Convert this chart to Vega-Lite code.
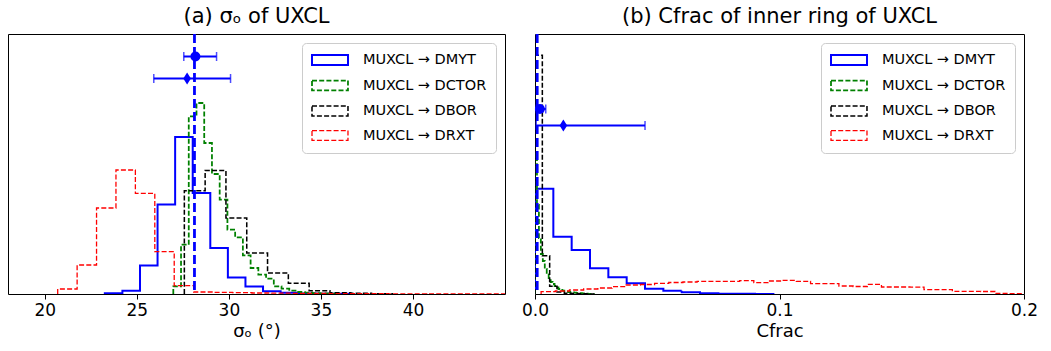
{
  "$schema": "https://vega.github.io/schema/vega-lite/v6.json",
  "background": "white",
  "padding": {"left": 7, "top": 5, "right": 5, "bottom": 5},
  "bounds": "flush",
  "spacing": 30,
  "config": {
    "font": "DejaVu Sans",
    "view": {"stroke": "#000000", "strokeWidth": 1},
    "title": {"fontSize": 21, "font": "DejaVu Sans", "fontWeight": "normal", "color": "#000000", "offset": 6, "anchor": "middle"},
    "axis": {"labelFontSize": 17, "titleFontSize": 18, "labelFont": "DejaVu Sans", "titleFont": "DejaVu Sans", "titleFontWeight": "normal", "labelColor": "#000000", "titleColor": "#000000", "tickColor": "#000000", "tickSize": 5, "domain": false, "grid": false, "labelPadding": 3, "titlePadding": 4, "labelFlush": false},
    "legend": {"orient": "top-right", "offset": 9, "title": null, "symbolType": "M-1,-0.71L4.14,-0.71L4.14,0.71L-1,0.71Z", "symbolSize": 196, "symbolFillColor": "transparent", "labelFontSize": 14.5, "labelFont": "DejaVu Sans", "labelColor": "#000000", "fillColor": "rgba(255,255,255,0.8)", "strokeColor": "#cccccc", "cornerRadius": 4, "padding": 9, "rowPadding": 7.5, "labelOffset": 36}
  },
  "datasets": {
    "hist_a": [
      {"series": "MYT", "x": 23.26, "count": 0, "i": 0},
      {"series": "MYT", "x": 23.26, "count": 1.4, "i": 1},
      {"series": "MYT", "x": 24.215, "count": 6.6, "i": 2},
      {"series": "MYT", "x": 25.17, "count": 57, "i": 3},
      {"series": "MYT", "x": 26.125, "count": 179, "i": 4},
      {"series": "MYT", "x": 27.08, "count": 314, "i": 5},
      {"series": "MYT", "x": 28.035, "count": 202, "i": 6},
      {"series": "MYT", "x": 28.99, "count": 92, "i": 7},
      {"series": "MYT", "x": 29.945, "count": 33, "i": 8},
      {"series": "MYT", "x": 30.9, "count": 15, "i": 9},
      {"series": "MYT", "x": 31.855, "count": 5.4, "i": 10},
      {"series": "MYT", "x": 32.81, "count": 2.4, "i": 11},
      {"series": "MYT", "x": 33.765, "count": 1.2, "i": 12},
      {"series": "MYT", "x": 34.72, "count": 0.6, "i": 13},
      {"series": "MYT", "x": 35.675, "count": 0.4, "i": 14},
      {"series": "MYT", "x": 36.63, "count": 0, "i": 15},
      {"series": "CTOR", "x": 26.98, "count": 0, "i": 0},
      {"series": "CTOR", "x": 26.98, "count": 15.4, "i": 1},
      {"series": "CTOR", "x": 27.40, "count": 98.6, "i": 2},
      {"series": "CTOR", "x": 27.82, "count": 355.4, "i": 3},
      {"series": "CTOR", "x": 28.24, "count": 382, "i": 4},
      {"series": "CTOR", "x": 28.66, "count": 302, "i": 5},
      {"series": "CTOR", "x": 29.08, "count": 240, "i": 6},
      {"series": "CTOR", "x": 29.50, "count": 188.6, "i": 7},
      {"series": "CTOR", "x": 29.92, "count": 128.6, "i": 8},
      {"series": "CTOR", "x": 30.34, "count": 113.4, "i": 9},
      {"series": "CTOR", "x": 30.76, "count": 77.4, "i": 10},
      {"series": "CTOR", "x": 31.18, "count": 52, "i": 11},
      {"series": "CTOR", "x": 31.60, "count": 38.6, "i": 12},
      {"series": "CTOR", "x": 32.02, "count": 30.6, "i": 13},
      {"series": "CTOR", "x": 32.44, "count": 15.4, "i": 14},
      {"series": "CTOR", "x": 32.86, "count": 10.6, "i": 15},
      {"series": "CTOR", "x": 33.28, "count": 6.6, "i": 16},
      {"series": "CTOR", "x": 33.70, "count": 4, "i": 17},
      {"series": "CTOR", "x": 34.12, "count": 2.6, "i": 18},
      {"series": "CTOR", "x": 34.54, "count": 1.6, "i": 19},
      {"series": "CTOR", "x": 34.96, "count": 1, "i": 20},
      {"series": "CTOR", "x": 35.38, "count": 0.6, "i": 21},
      {"series": "CTOR", "x": 35.80, "count": 0, "i": 22},
      {"series": "BOR", "x": 27.58, "count": 0, "i": 0},
      {"series": "BOR", "x": 27.58, "count": 206.6, "i": 1},
      {"series": "BOR", "x": 28.71, "count": 247, "i": 2},
      {"series": "BOR", "x": 29.84, "count": 152, "i": 3},
      {"series": "BOR", "x": 30.97, "count": 82, "i": 4},
      {"series": "BOR", "x": 32.10, "count": 42, "i": 5},
      {"series": "BOR", "x": 33.23, "count": 21.4, "i": 6},
      {"series": "BOR", "x": 34.36, "count": 6.6, "i": 7},
      {"series": "BOR", "x": 35.49, "count": 2.6, "i": 8},
      {"series": "BOR", "x": 36.62, "count": 1.4, "i": 9},
      {"series": "BOR", "x": 37.75, "count": 0.6, "i": 10},
      {"series": "BOR", "x": 38.88, "count": 0, "i": 11},
      {"series": "RXT", "x": 20.70, "count": 0, "i": 0},
      {"series": "RXT", "x": 20.70, "count": 10, "i": 1},
      {"series": "RXT", "x": 21.755, "count": 58, "i": 2},
      {"series": "RXT", "x": 22.81, "count": 172, "i": 3},
      {"series": "RXT", "x": 23.865, "count": 248, "i": 4},
      {"series": "RXT", "x": 24.92, "count": 201.4, "i": 5},
      {"series": "RXT", "x": 25.975, "count": 84.6, "i": 6},
      {"series": "RXT", "x": 27.03, "count": 16.6, "i": 7},
      {"series": "RXT", "x": 28.085, "count": 4, "i": 8},
      {"series": "RXT", "x": 29.14, "count": 3.4, "i": 9},
      {"series": "RXT", "x": 30.195, "count": 2.6, "i": 10},
      {"series": "RXT", "x": 31.25, "count": 2, "i": 11},
      {"series": "RXT", "x": 32.305, "count": 1.6, "i": 12},
      {"series": "RXT", "x": 33.36, "count": 1.4, "i": 13},
      {"series": "RXT", "x": 34.415, "count": 1, "i": 14},
      {"series": "RXT", "x": 35.47, "count": 0.8, "i": 15},
      {"series": "RXT", "x": 36.525, "count": 0.6, "i": 16},
      {"series": "RXT", "x": 37.58, "count": 0.6, "i": 17},
      {"series": "RXT", "x": 38.635, "count": 0.4, "i": 18},
      {"series": "RXT", "x": 39.69, "count": 0.4, "i": 19},
      {"series": "RXT", "x": 40.745, "count": 0.2, "i": 20},
      {"series": "RXT", "x": 41.80, "count": 0.2, "i": 21},
      {"series": "RXT", "x": 42.855, "count": 0.2, "i": 22},
      {"series": "RXT", "x": 43.91, "count": 0.2, "i": 23},
      {"series": "RXT", "x": 44.965, "count": 0.2, "i": 24},
      {"series": "RXT", "x": 46.02, "count": 0, "i": 25}
    ],
    "hist_b": [
      {"series": "MYT", "x": 0, "count": 0, "i": 0},
      {"series": "MYT", "x": 0, "count": 210.6, "i": 1},
      {"series": "MYT", "x": 0.0075, "count": 114.6, "i": 2},
      {"series": "MYT", "x": 0.015, "count": 88, "i": 3},
      {"series": "MYT", "x": 0.0225, "count": 51.4, "i": 4},
      {"series": "MYT", "x": 0.03, "count": 33.4, "i": 5},
      {"series": "MYT", "x": 0.0375, "count": 21.4, "i": 6},
      {"series": "MYT", "x": 0.045, "count": 10.6, "i": 7},
      {"series": "MYT", "x": 0.0525, "count": 6.6, "i": 8},
      {"series": "MYT", "x": 0.06, "count": 3.4, "i": 9},
      {"series": "MYT", "x": 0.0675, "count": 1.4, "i": 10},
      {"series": "MYT", "x": 0.075, "count": 0.6, "i": 11},
      {"series": "MYT", "x": 0.0825, "count": 0.4, "i": 12},
      {"series": "MYT", "x": 0.09, "count": 0.2, "i": 13},
      {"series": "MYT", "x": 0.0975, "count": 0, "i": 14},
      {"series": "CTOR", "x": 0, "count": 0, "i": 0},
      {"series": "CTOR", "x": 0, "count": 280, "i": 1},
      {"series": "CTOR", "x": 0.0008, "count": 178, "i": 2},
      {"series": "CTOR", "x": 0.0016, "count": 112, "i": 3},
      {"series": "CTOR", "x": 0.0024, "count": 80, "i": 4},
      {"series": "CTOR", "x": 0.0032, "count": 66, "i": 5},
      {"series": "CTOR", "x": 0.004, "count": 50, "i": 6},
      {"series": "CTOR", "x": 0.0048, "count": 40, "i": 7},
      {"series": "CTOR", "x": 0.0056, "count": 32, "i": 8},
      {"series": "CTOR", "x": 0.0064, "count": 24, "i": 9},
      {"series": "CTOR", "x": 0.0072, "count": 20, "i": 10},
      {"series": "CTOR", "x": 0.008, "count": 16, "i": 11},
      {"series": "CTOR", "x": 0.0088, "count": 13, "i": 12},
      {"series": "CTOR", "x": 0.0096, "count": 10, "i": 13},
      {"series": "CTOR", "x": 0.0104, "count": 8, "i": 14},
      {"series": "CTOR", "x": 0.0112, "count": 6.6, "i": 15},
      {"series": "CTOR", "x": 0.012, "count": 5.6, "i": 16},
      {"series": "CTOR", "x": 0.0128, "count": 4.8, "i": 17},
      {"series": "CTOR", "x": 0.0136, "count": 4, "i": 18},
      {"series": "CTOR", "x": 0.0144, "count": 3.4, "i": 19},
      {"series": "CTOR", "x": 0.0152, "count": 3, "i": 20},
      {"series": "CTOR", "x": 0.016, "count": 2.6, "i": 21},
      {"series": "CTOR", "x": 0.0168, "count": 2.2, "i": 22},
      {"series": "CTOR", "x": 0.0176, "count": 2, "i": 23},
      {"series": "CTOR", "x": 0.0184, "count": 1.6, "i": 24},
      {"series": "CTOR", "x": 0.0192, "count": 1.2, "i": 25},
      {"series": "CTOR", "x": 0.02, "count": 0.8, "i": 26},
      {"series": "CTOR", "x": 0.0208, "count": 0.6, "i": 27},
      {"series": "CTOR", "x": 0.0216, "count": 0.4, "i": 28},
      {"series": "CTOR", "x": 0.0224, "count": 0.2, "i": 29},
      {"series": "CTOR", "x": 0.0232, "count": 0.2, "i": 30},
      {"series": "CTOR", "x": 0.024, "count": 0, "i": 31},
      {"series": "BOR", "x": 0, "count": 0, "i": 0},
      {"series": "BOR", "x": 0, "count": 477.4, "i": 1},
      {"series": "BOR", "x": 0.003, "count": 76.6, "i": 2},
      {"series": "BOR", "x": 0.006, "count": 15.4, "i": 3},
      {"series": "BOR", "x": 0.009, "count": 4, "i": 4},
      {"series": "BOR", "x": 0.012, "count": 1.6, "i": 5},
      {"series": "BOR", "x": 0.015, "count": 0.8, "i": 6},
      {"series": "BOR", "x": 0.018, "count": 0.4, "i": 7},
      {"series": "BOR", "x": 0.021, "count": 0.2, "i": 8},
      {"series": "BOR", "x": 0.024, "count": 0, "i": 9},
      {"series": "RXT", "x": 0.0025, "count": 0, "i": 0},
      {"series": "RXT", "x": 0.0025, "count": 4.6, "i": 1},
      {"series": "RXT", "x": 0.0083, "count": 6, "i": 2},
      {"series": "RXT", "x": 0.0141, "count": 8, "i": 3},
      {"series": "RXT", "x": 0.0199, "count": 10, "i": 4},
      {"series": "RXT", "x": 0.0257, "count": 12, "i": 5},
      {"series": "RXT", "x": 0.0315, "count": 14.6, "i": 6},
      {"series": "RXT", "x": 0.0373, "count": 18, "i": 7},
      {"series": "RXT", "x": 0.0431, "count": 19, "i": 8},
      {"series": "RXT", "x": 0.0489, "count": 21.4, "i": 9},
      {"series": "RXT", "x": 0.0547, "count": 23, "i": 10},
      {"series": "RXT", "x": 0.0605, "count": 24, "i": 11},
      {"series": "RXT", "x": 0.0663, "count": 25.4, "i": 12},
      {"series": "RXT", "x": 0.0721, "count": 25.4, "i": 13},
      {"series": "RXT", "x": 0.0779, "count": 25.4, "i": 14},
      {"series": "RXT", "x": 0.0837, "count": 26.6, "i": 15},
      {"series": "RXT", "x": 0.0895, "count": 22.6, "i": 16},
      {"series": "RXT", "x": 0.0953, "count": 26, "i": 17},
      {"series": "RXT", "x": 0.1011, "count": 27.4, "i": 18},
      {"series": "RXT", "x": 0.1069, "count": 25.4, "i": 19},
      {"series": "RXT", "x": 0.1127, "count": 20.6, "i": 20},
      {"series": "RXT", "x": 0.1185, "count": 20.6, "i": 21},
      {"series": "RXT", "x": 0.1243, "count": 16, "i": 22},
      {"series": "RXT", "x": 0.1301, "count": 15, "i": 23},
      {"series": "RXT", "x": 0.1359, "count": 19.4, "i": 24},
      {"series": "RXT", "x": 0.1417, "count": 14, "i": 25},
      {"series": "RXT", "x": 0.1475, "count": 14, "i": 26},
      {"series": "RXT", "x": 0.1533, "count": 13.6, "i": 27},
      {"series": "RXT", "x": 0.1591, "count": 8.6, "i": 28},
      {"series": "RXT", "x": 0.1649, "count": 8.6, "i": 29},
      {"series": "RXT", "x": 0.1707, "count": 5.4, "i": 30},
      {"series": "RXT", "x": 0.1765, "count": 5.4, "i": 31},
      {"series": "RXT", "x": 0.1823, "count": 5, "i": 32},
      {"series": "RXT", "x": 0.1881, "count": 1, "i": 33},
      {"series": "RXT", "x": 0.1939, "count": 0.6, "i": 34},
      {"series": "RXT", "x": 0.1997, "count": 0, "i": 35}
    ],
    "vline_a": [{"x": 28.13}],
    "vline_b": [{"x": 0.0009}],
    "pts_a": [
      {"marker": "circle", "x": 28.18, "lo": 27.55, "hi": 29.33, "y": 475},
      {"marker": "diamond", "x": 27.73, "lo": 25.92, "hi": 30.09, "y": 431}
    ],
    "pts_b": [
      {"marker": "circle", "x": 0.002, "lo": 0.0005, "hi": 0.0044, "y": 370},
      {"marker": "diamond", "x": 0.0116, "lo": 0.0005, "hi": 0.045, "y": 337}
    ]
  },
  "resolve": {"scale": {"x": "independent", "y": "independent"}, "legend": {"color": "independent", "strokeDash": "independent", "strokeWidth": "independent"}},
  "hconcat": [
    {
      "width": 497,
      "height": 260,
      "title": "(a) σₒ of UXCL",
      "layer": [
        {
          "data": {"name": "hist_a"},
          "mark": {"type": "line", "interpolate": "step-after", "clip": true},
          "encoding": {
            "x": {"field": "x", "type": "quantitative", "scale": {"domain": [18, 45], "nice": false, "zero": false}, "axis": {"values": [20, 25, 30, 35, 40], "title": "σₒ (°)"}},
            "y": {"field": "count", "type": "quantitative", "scale": {"domain": [0, 520], "nice": false}, "axis": null},
            "color": {"field": "series", "type": "nominal", "scale": {"domain": ["MYT", "CTOR", "BOR", "RXT"], "range": ["#0000ff", "#008000", "#000000", "#ff0000"]}, "legend": {"labelExpr": "'MUXCL → D' + datum.label", "labelFontSize": 14.5}},
            "strokeDash": {"field": "series", "type": "nominal", "scale": {"domain": ["MYT", "CTOR", "BOR", "RXT"], "range": [[1, 0], [5, 2.2], [5, 2.2], [5, 2.2]]}, "legend": {"labelExpr": "'MUXCL → D' + datum.label", "labelFontSize": 14.5}},
            "strokeWidth": {"field": "series", "type": "nominal", "scale": {"domain": ["MYT", "CTOR", "BOR", "RXT"], "range": [2, 1.3, 1.3, 1.3]}, "legend": {"labelExpr": "'MUXCL → D' + datum.label", "labelFontSize": 14.5}},
            "order": {"field": "i", "type": "quantitative"}
          }
        },
        {
          "data": {"name": "vline_a"},
          "mark": {"type": "rule", "color": "#0000ff", "strokeWidth": 2.8, "strokeDash": [9, 4]},
          "encoding": {"x": {"field": "x", "type": "quantitative"}}
        },
        {
          "data": {"name": "pts_a"},
          "mark": {"type": "rule", "color": "#0000ff", "strokeWidth": 2},
          "encoding": {"x": {"field": "lo", "type": "quantitative"}, "x2": {"field": "hi"}, "y": {"field": "y", "type": "quantitative"}}
        },
        {
          "data": {"name": "pts_a"},
          "mark": {"type": "tick", "orient": "vertical", "size": 9, "thickness": 1.5, "color": "#0000ff"},
          "encoding": {"x": {"field": "lo", "type": "quantitative"}, "y": {"field": "y", "type": "quantitative"}}
        },
        {
          "data": {"name": "pts_a"},
          "mark": {"type": "tick", "orient": "vertical", "size": 9, "thickness": 1.5, "color": "#0000ff"},
          "encoding": {"x": {"field": "hi", "type": "quantitative"}, "y": {"field": "y", "type": "quantitative"}}
        },
        {
          "data": {"name": "pts_a"},
          "transform": [{"filter": "datum.marker === 'circle'"}],
          "mark": {"type": "point", "shape": "circle", "filled": true, "opacity": 1, "color": "#0000ff", "size": 100},
          "encoding": {"x": {"field": "x", "type": "quantitative"}, "y": {"field": "y", "type": "quantitative"}}
        },
        {
          "data": {"name": "pts_a"},
          "transform": [{"filter": "datum.marker === 'diamond'"}],
          "mark": {"type": "point", "shape": "M0,-1L0.64,0L0,1L-0.64,0Z", "filled": true, "opacity": 1, "color": "#0000ff", "size": 144},
          "encoding": {"x": {"field": "x", "type": "quantitative"}, "y": {"field": "y", "type": "quantitative"}}
        }
      ]
    },
    {
      "width": 489,
      "height": 260,
      "title": "(b) Cfrac of inner ring of UXCL",
      "layer": [
        {
          "data": {"name": "hist_b"},
          "mark": {"type": "line", "interpolate": "step-after", "clip": true},
          "encoding": {
            "x": {"field": "x", "type": "quantitative", "scale": {"domain": [0, 0.2], "nice": false, "zero": false}, "axis": {"values": [0, 0.1, 0.2], "format": ".1f", "title": "Cfrac"}},
            "y": {"field": "count", "type": "quantitative", "scale": {"domain": [0, 520], "nice": false}, "axis": null},
            "color": {"field": "series", "type": "nominal", "scale": {"domain": ["MYT", "CTOR", "BOR", "RXT"], "range": ["#0000ff", "#008000", "#000000", "#ff0000"]}, "legend": {"labelExpr": "'MUXCL → D' + datum.label", "labelFontSize": 14.5}},
            "strokeDash": {"field": "series", "type": "nominal", "scale": {"domain": ["MYT", "CTOR", "BOR", "RXT"], "range": [[1, 0], [5, 2.2], [5, 2.2], [5, 2.2]]}, "legend": {"labelExpr": "'MUXCL → D' + datum.label", "labelFontSize": 14.5}},
            "strokeWidth": {"field": "series", "type": "nominal", "scale": {"domain": ["MYT", "CTOR", "BOR", "RXT"], "range": [2, 1.3, 1.3, 1.3]}, "legend": {"labelExpr": "'MUXCL → D' + datum.label", "labelFontSize": 14.5}},
            "order": {"field": "i", "type": "quantitative"}
          }
        },
        {
          "data": {"name": "vline_b"},
          "mark": {"type": "rule", "color": "#0000ff", "strokeWidth": 2.8, "strokeDash": [9, 4]},
          "encoding": {"x": {"field": "x", "type": "quantitative"}}
        },
        {
          "data": {"name": "pts_b"},
          "mark": {"type": "rule", "color": "#0000ff", "strokeWidth": 2},
          "encoding": {"x": {"field": "lo", "type": "quantitative"}, "x2": {"field": "hi"}, "y": {"field": "y", "type": "quantitative"}}
        },
        {
          "data": {"name": "pts_b"},
          "mark": {"type": "tick", "orient": "vertical", "size": 9, "thickness": 1.5, "color": "#0000ff"},
          "encoding": {"x": {"field": "lo", "type": "quantitative"}, "y": {"field": "y", "type": "quantitative"}}
        },
        {
          "data": {"name": "pts_b"},
          "mark": {"type": "tick", "orient": "vertical", "size": 9, "thickness": 1.5, "color": "#0000ff"},
          "encoding": {"x": {"field": "hi", "type": "quantitative"}, "y": {"field": "y", "type": "quantitative"}}
        },
        {
          "data": {"name": "pts_b"},
          "transform": [{"filter": "datum.marker === 'circle'"}],
          "mark": {"type": "point", "shape": "circle", "filled": true, "opacity": 1, "color": "#0000ff", "size": 100},
          "encoding": {"x": {"field": "x", "type": "quantitative"}, "y": {"field": "y", "type": "quantitative"}}
        },
        {
          "data": {"name": "pts_b"},
          "transform": [{"filter": "datum.marker === 'diamond'"}],
          "mark": {"type": "point", "shape": "M0,-1L0.64,0L0,1L-0.64,0Z", "filled": true, "opacity": 1, "color": "#0000ff", "size": 144},
          "encoding": {"x": {"field": "x", "type": "quantitative"}, "y": {"field": "y", "type": "quantitative"}}
        }
      ]
    }
  ]
}
